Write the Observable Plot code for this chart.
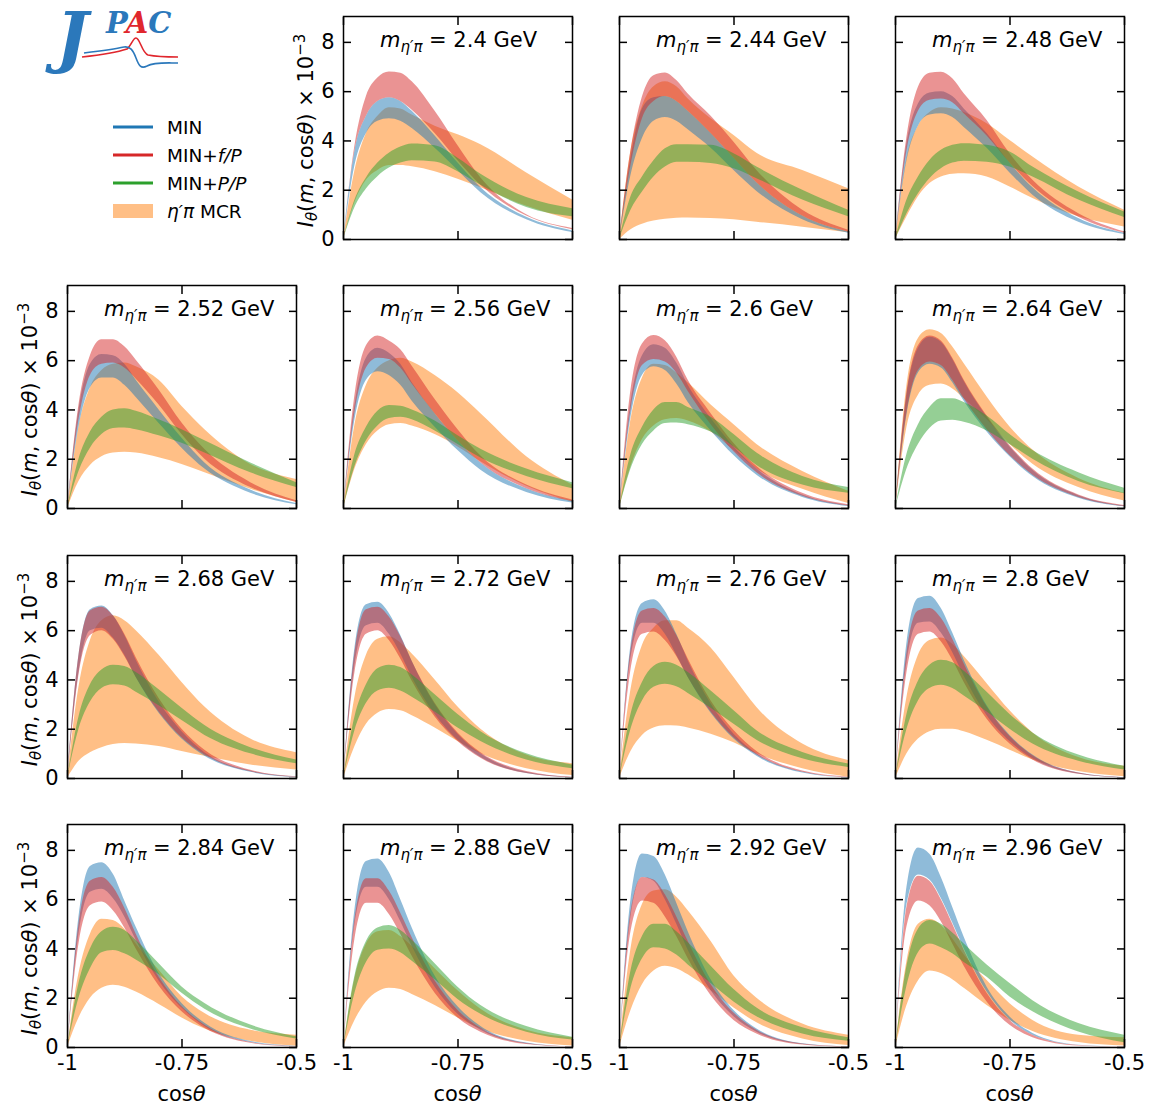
<!DOCTYPE html>
<html><head><meta charset="utf-8">
<script src="https://cdn.jsdelivr.net/npm/d3@7"></script>
<script src="https://cdn.jsdelivr.net/npm/@observablehq/plot@0.6"></script>
<style>
body{margin:0;background:#fff;}
#fig{position:relative;width:1151px;height:1107px;font-family:"DejaVu Sans",sans-serif;overflow:hidden;}
#fig svg{position:absolute;overflow:visible;}
</style></head><body><div id="fig"></div>
<script>
// ---- data ----
const cosTheta = [-1, -0.975, -0.95, -0.925, -0.9, -0.875, -0.85, -0.8, -0.75, -0.7, -0.6, -0.5];
const masses = [2.4, 2.44, 2.48, 2.52, 2.56, 2.6, 2.64, 2.68, 2.72, 2.76, 2.8, 2.84, 2.88, 2.92, 2.96];
const xTicks = [-1, -0.75, -0.5];
const xTickLabels = ["-1", "-0.75", "-0.5"];
const yTicks = [0, 2, 4, 6, 8];

// MIN (blue)
const minHi = [
 [0,3.6,5.0,5.6,5.75,5.6,5.2,4.2,3.1,2.1,0.9,0.35],
 [0,3.3,5.3,5.75,5.8,5.6,5.2,4.3,3.3,2.3,0.95,0.3],
 [0,3.9,5.5,5.95,6.0,5.8,5.3,4.3,3.1,2.1,0.85,0.25],
 [0,4.0,5.85,6.25,6.2,5.85,5.2,4.0,2.85,1.85,0.75,0.2],
 [0,4.2,6.1,6.5,6.3,5.85,5.1,3.85,2.75,1.85,0.8,0.3],
 [0,4.3,6.2,6.65,6.5,5.9,5.0,3.65,2.5,1.6,0.55,0.12],
 [0,4.6,6.5,6.95,6.75,6.05,5.15,3.7,2.5,1.55,0.52,0.1],
 [0,5.0,6.85,7.0,6.6,5.8,4.8,3.1,1.9,1.05,0.3,0.06],
 [0,5.3,7.05,7.15,6.7,5.8,4.75,3.0,1.8,1.0,0.25,0.04],
 [0,5.4,7.1,7.25,6.79,5.85,4.77,3.02,1.8,1.0,0.26,0.03],
 [0,5.5,7.3,7.4,6.9,5.9,4.8,2.95,1.75,0.95,0.22,0.03],
 [0,5.3,7.35,7.5,7.03,5.95,4.88,3.0,1.79,0.98,0.24,0.04],
 [0,5.6,7.55,7.65,7.1,6.0,4.85,2.9,1.65,0.85,0.18,0.02],
 [0,6.0,7.85,7.75,7.0,5.85,4.7,2.75,1.5,0.75,0.15,0.02],
 [0,6.5,8.1,7.84,6.9,5.68,4.47,2.45,1.24,0.57,0.09,0.01]
];
const minLo = [
 [0,3.0,4.3,4.8,4.9,4.8,4.5,3.7,2.8,1.9,0.8,0.28],
 [0,2.6,4.1,4.8,4.95,4.8,4.45,3.7,2.8,1.95,0.8,0.25],
 [0,3.2,4.6,5.05,5.1,4.95,4.55,3.7,2.7,1.8,0.7,0.2],
 [0,3.3,4.9,5.3,5.3,5.0,4.5,3.45,2.45,1.6,0.62,0.15],
 [0,3.6,5.2,5.55,5.4,5.0,4.35,3.3,2.35,1.55,0.65,0.22],
 [0,3.7,5.4,5.75,5.6,5.05,4.3,3.15,2.15,1.35,0.45,0.08],
 [0,3.8,5.5,5.85,5.7,5.1,4.35,3.1,2.1,1.3,0.42,0.07],
 [0,4.3,6.0,6.1,5.7,5.0,4.1,2.65,1.6,0.9,0.25,0.04],
 [0,4.6,6.2,6.3,5.85,5.05,4.1,2.6,1.55,0.85,0.2,0.03],
 [0,4.9,6.3,6.3,5.85,5.0,4.1,2.65,1.6,0.9,0.22,0.02],
 [0,4.7,6.3,6.35,5.9,5.1,4.15,2.55,1.5,0.8,0.18,0.02],
 [0,4.6,6.3,6.42,6.05,5.3,4.35,2.7,1.6,0.85,0.2,0.03],
 [0,5.0,6.5,6.5,6.0,5.1,4.1,2.45,1.35,0.7,0.14,0.02],
 [0,5.3,6.9,6.75,6.0,5.0,3.95,2.3,1.25,0.62,0.12,0.01],
 [0,5.8,7.0,6.8,6.05,5.05,4.0,2.25,1.12,0.5,0.08,0.01]
];
// MIN+f/P (red)
const fpHi = [
 [0,3.8,5.8,6.55,6.8,6.75,6.4,5.2,3.8,2.5,1.0,0.45],
 [0,3.6,5.78,6.65,6.76,6.45,5.9,5.0,3.95,2.8,1.19,0.38],
 [0,4.16,6.18,6.75,6.79,6.52,5.91,4.83,3.48,2.4,1.05,0.31],
 [0,4.2,6.2,6.85,6.85,6.56,6.02,4.81,3.47,2.39,1.05,0.31],
 [0,4.6,6.6,7.0,6.8,6.44,5.77,4.42,3.2,2.13,0.95,0.35],
 [0,4.8,6.68,7.02,6.81,6.14,5.2,3.85,2.64,1.7,0.62,0.15],
 [0,4.7,6.6,7.0,6.8,6.1,5.2,3.75,2.55,1.6,0.55,0.12],
 [0,5.0,6.8,6.95,6.6,5.85,4.9,3.25,2.0,1.15,0.33,0.07],
 [0,5.1,6.85,6.95,6.55,5.75,4.75,3.05,1.85,1.05,0.28,0.05],
 [0,5.2,6.8,6.9,6.55,5.8,4.85,3.15,1.95,1.1,0.3,0.05],
 [0,5.1,6.8,6.9,6.5,5.65,4.65,2.9,1.7,0.92,0.22,0.03],
 [0,5.0,6.75,6.9,6.5,5.65,4.6,2.85,1.65,0.9,0.2,0.03],
 [0,5.2,6.85,6.85,6.35,5.45,4.45,2.7,1.5,0.78,0.16,0.02],
 [0,5.5,6.9,6.8,6.2,5.3,4.3,2.55,1.4,0.7,0.14,0.02],
 [0,5.7,6.95,6.75,6.0,5.0,3.95,2.2,1.1,0.5,0.08,0.01]
];
const fpLo = [
 [0,3.6,5.0,5.6,5.75,5.6,5.25,4.3,3.2,2.2,0.95,0.4],
 [0,3.0,4.9,5.6,5.8,5.6,5.2,4.3,3.3,2.3,0.95,0.3],
 [0,3.6,5.2,5.65,5.7,5.55,5.1,4.2,3.1,2.15,0.9,0.25],
 [0,3.6,5.4,5.85,5.9,5.7,5.25,4.2,3.0,2.0,0.85,0.25],
 [0,3.9,5.7,6.1,6.05,5.7,5.05,3.85,2.75,1.85,0.8,0.28],
 [0,4.0,5.8,6.05,5.95,5.5,4.75,3.4,2.3,1.45,0.5,0.1],
 [0,3.9,5.6,5.95,5.8,5.2,4.45,3.2,2.15,1.35,0.45,0.08],
 [0,4.2,5.8,6.0,5.65,4.95,4.1,2.7,1.65,0.95,0.27,0.05],
 [0,4.3,5.85,6.0,5.6,4.85,3.95,2.5,1.5,0.82,0.2,0.03],
 [0,4.4,5.85,5.95,5.6,4.95,4.1,2.7,1.65,0.95,0.25,0.03],
 [0,4.3,5.85,5.95,5.55,4.8,3.9,2.4,1.4,0.75,0.17,0.02],
 [0,4.2,5.75,5.9,5.55,4.85,4.0,2.5,1.45,0.78,0.17,0.02],
 [0,4.4,5.85,5.85,5.4,4.6,3.7,2.2,1.2,0.62,0.12,0.01],
 [0,4.7,5.95,5.85,5.3,4.5,3.6,2.1,1.1,0.55,0.1,0.01],
 [0,4.9,5.95,5.75,5.1,4.2,3.3,1.85,0.9,0.4,0.06,0.0]
];
// MIN+P/P (green)
const ppHi = [
 [0,1.6,2.5,3.1,3.5,3.75,3.88,3.8,3.3,2.65,1.7,1.25],
 [0,1.73,2.54,3.2,3.68,3.85,3.85,3.82,3.48,2.94,2.0,1.19],
 [0,1.6,2.54,3.21,3.62,3.82,3.89,3.82,3.55,2.94,1.93,1.12],
 [0,2.0,3.1,3.7,4.0,4.05,3.95,3.6,3.2,2.75,1.85,1.05],
 [0,2.2,3.3,3.95,4.18,4.15,4.0,3.55,2.95,2.4,1.6,1.05],
 [0,2.2,3.3,4.0,4.3,4.3,4.1,3.7,3.0,2.25,1.3,0.85],
 [0,2.2,3.4,4.1,4.45,4.45,4.3,3.75,3.0,2.35,1.45,0.82],
 [0,2.5,3.8,4.4,4.6,4.55,4.3,3.6,2.85,2.15,1.25,0.75],
 [0,2.5,3.8,4.45,4.6,4.5,4.2,3.4,2.6,1.9,1.0,0.55],
 [0,2.6,3.9,4.55,4.72,4.6,4.3,3.55,2.75,1.94,1.06,0.59],
 [0,2.6,3.95,4.6,4.8,4.7,4.35,3.5,2.6,1.85,0.95,0.5],
 [0,2.6,4.0,4.7,4.88,4.75,4.34,3.4,2.46,1.79,0.91,0.44],
 [0,2.9,4.3,4.85,4.95,4.75,4.35,3.4,2.45,1.7,0.85,0.42],
 [0,3.1,4.5,5.0,5.0,4.7,4.25,3.3,2.35,1.6,0.8,0.4],
 [0,3.3,4.8,5.15,5.0,4.65,4.2,3.35,2.6,1.9,0.97,0.5]
];
const ppLo = [
 [0,1.3,2.05,2.55,2.9,3.1,3.2,3.15,2.75,2.2,1.3,0.92],
 [0,1.19,1.93,2.54,2.94,3.13,3.14,3.08,2.87,2.47,1.6,0.92],
 [0,1.05,1.86,2.47,2.87,3.1,3.18,3.14,2.94,2.54,1.6,0.89],
 [0,1.5,2.45,3.0,3.25,3.27,3.2,2.95,2.65,2.25,1.45,0.85],
 [0,1.7,2.75,3.35,3.65,3.7,3.6,3.15,2.6,2.05,1.3,0.8],
 [0,1.6,2.6,3.15,3.45,3.47,3.4,3.1,2.5,1.75,0.95,0.62],
 [0,1.6,2.6,3.25,3.55,3.58,3.5,3.15,2.6,2.0,1.1,0.6],
 [0,2.0,3.1,3.65,3.8,3.75,3.5,2.95,2.35,1.75,1.0,0.6],
 [0,1.95,3.05,3.55,3.66,3.55,3.3,2.7,2.05,1.5,0.75,0.4],
 [0,2.0,3.15,3.7,3.82,3.72,3.45,2.85,2.2,1.55,0.8,0.45],
 [0,2.0,3.15,3.65,3.78,3.65,3.35,2.7,2.0,1.4,0.7,0.35],
 [0,2.0,3.2,3.85,3.94,3.8,3.55,2.95,2.2,1.55,0.75,0.35],
 [0,2.2,3.45,3.95,4.0,3.85,3.5,2.75,1.95,1.35,0.62,0.3],
 [0,2.4,3.6,4.05,4.0,3.75,3.35,2.6,1.85,1.25,0.55,0.25],
 [0,2.5,3.85,4.2,4.05,3.8,3.45,2.85,2.05,1.45,0.63,0.19]
];
// eta' pi MCR (orange)
const mcrHi = [
 [0,2.8,4.3,5.0,5.35,5.3,5.05,4.6,4.25,3.85,2.7,1.6],
 [0,3.6,5.4,6.2,6.4,6.2,5.7,4.9,4.22,3.5,2.8,2.06],
 [0,3.3,4.6,5.15,5.35,5.3,5.15,4.7,4.02,3.35,2.13,1.19],
 [0,3.3,4.9,5.6,5.85,5.9,5.75,5.2,4.14,3.2,1.79,1.18],
 [0,3.4,5.0,5.7,6.0,6.1,5.95,5.4,4.7,3.85,2.1,0.95],
 [0,3.6,5.3,5.85,5.8,5.5,5.1,4.2,3.4,2.6,1.5,0.7],
 [0,5.0,6.9,7.25,7.1,6.55,5.87,4.53,3.31,2.37,1.22,0.62],
 [0,3.7,5.6,6.4,6.6,6.4,6.0,5.0,3.9,2.9,1.6,1.05],
 [0,3.3,5.0,5.65,5.75,5.5,5.05,4.0,2.9,2.0,0.95,0.6],
 [0,3.6,5.4,6.1,6.4,6.4,6.1,5.3,4.1,2.88,1.4,0.73],
 [0,3.3,5.0,5.6,5.7,5.45,4.95,3.85,2.75,1.85,0.85,0.5],
 [0,3.0,4.6,5.2,5.15,4.8,4.2,3.13,2.06,1.38,0.7,0.5],
 [0,2.8,4.2,4.7,4.75,4.5,4.1,3.2,2.3,1.55,0.7,0.4],
 [0,4.0,5.8,6.35,6.4,6.1,5.55,4.3,2.9,2.0,0.95,0.5],
 [0,3.5,5.0,5.2,4.95,4.4,3.75,2.72,1.78,1.1,0.5,0.4]
];
const mcrLo = [
 [0,1.5,2.4,2.8,3.0,3.0,2.95,2.75,2.45,2.1,1.35,0.78],
 [0,0.4,0.62,0.75,0.82,0.86,0.87,0.85,0.8,0.7,0.5,0.27],
 [0,0.92,1.73,2.27,2.54,2.65,2.67,2.54,2.13,1.66,0.92,0.51],
 [0,1.1,1.75,2.1,2.25,2.28,2.25,2.06,1.79,1.45,0.78,0.24],
 [0,1.6,2.6,3.15,3.4,3.45,3.35,3.0,2.5,1.9,0.9,0.25],
 [0,1.7,2.8,3.35,3.6,3.65,3.55,3.1,2.35,1.6,0.78,0.2],
 [0,3.3,4.6,5.0,5.05,4.85,4.45,3.6,2.6,1.8,0.85,0.3],
 [0,0.7,1.05,1.25,1.38,1.42,1.4,1.3,1.1,0.9,0.55,0.35],
 [0,1.3,2.2,2.65,2.8,2.75,2.55,2.05,1.5,1.0,0.4,0.12],
 [0,1.1,1.75,2.05,2.14,2.13,2.05,1.8,1.45,1.0,0.4,0.05],
 [0,1.0,1.6,1.9,2.0,2.0,1.9,1.55,1.15,0.75,0.28,0.07],
 [0,1.2,2.0,2.4,2.53,2.45,2.25,1.75,1.2,0.75,0.25,0.05],
 [0,1.1,1.85,2.25,2.4,2.35,2.15,1.7,1.2,0.75,0.25,0.06],
 [0,1.5,2.55,3.1,3.3,3.2,2.95,2.3,1.6,1.0,0.35,0.08],
 [0,1.7,2.7,3.1,3.0,2.75,2.4,1.7,1.1,0.65,0.2,0.06]
];

const models = [
  {name: "MCR", lo: mcrLo, hi: mcrHi, color: "#ff7f0e"},
  {name: "MIN", lo: minLo, hi: minHi, color: "#1f77b4"},
  {name: "MIN+f/P", lo: fpLo, hi: fpHi, color: "#d62728"},
  {name: "MIN+P/P", lo: ppLo, hi: ppHi, color: "#2ca02c"}
];

// ---- layout ----
const PW = 229, PH = 223, ML = 70, MR = 12, MT = 16, MB = 66;
const FS = 21;
const fig = document.getElementById("fig");
const xLab = new Map(xTicks.map((t, i) => [t, xTickLabels[i]]));

masses.forEach((m, i) => {
  const cell = i + 1, r = Math.floor(cell / 4), c = cell % 4;
  const left = 67 + 276 * c, top = Math.round(16 + 269.33 * r);
  const showX = r === 3, showY = c === 0 || (r === 0 && c === 1);
  const marks = models.map(md => Plot.areaY(cosTheta, {
    x: cosTheta, y1: md.lo[i], y2: md.hi[i],
    fill: md.color, fillOpacity: 0.5, curve: "monotone-x"
  }));
  marks.push(
    Plot.axisX(xTicks, {anchor: "bottom", tickSize: -8, strokeWidth: 1.5, fill: "none", label: null}),
    Plot.axisX(xTicks, {anchor: "top", tickSize: -8, strokeWidth: 1.5, fill: "none", label: null}),
    Plot.axisY(yTicks, {anchor: "left", tickSize: -8, strokeWidth: 1.5, fill: "none", label: null}),
    Plot.axisY(yTicks, {anchor: "right", tickSize: -8, strokeWidth: 1.5, fill: "none", label: null}),
    Plot.frame({stroke: "black", strokeWidth: 1.5})
  );
  if (showX) marks.push(Plot.axisX(xTicks, {anchor: "bottom", tickSize: 0, stroke: "none", tickPadding: 8, fontSize: FS, tickFormat: d => xLab.get(d), label: null}));
  if (showY) marks.push(Plot.axisY(yTicks, {anchor: "left", tickSize: 0, stroke: "none", tickPadding: 9, fontSize: FS, label: null}));
  const svgEl = Plot.plot({
    width: ML + PW + MR, height: MT + PH + MB,
    marginLeft: ML, marginRight: MR, marginTop: MT, marginBottom: MB,
    x: {domain: [-1, -0.5], axis: null},
    y: {domain: [0, 9.05], axis: null},
    style: {fontFamily: "DejaVu Sans", fontSize: FS + "px", background: "transparent", overflow: "visible", maxWidth: "none", color: "black"},
    marks
  });
  svgEl.style.left = (left - ML) + "px";
  svgEl.style.top = (top - MT) + "px";
  fig.appendChild(svgEl);
  const svg = d3.select(svgEl);
  // facet title
  const t = svg.append("text").attr("x", ML + 37).attr("y", MT + 31).attr("text-anchor", "start")
    .attr("font-size", FS).attr("fill", "black");
  t.append("tspan").attr("font-style", "italic").text("m");
  t.append("tspan").attr("font-style", "italic").attr("font-size", 15).attr("dy", 5).text("η′π");
  t.append("tspan").attr("dy", -5).text(" = " + m + " GeV");
  if (showY) {
    const yl = svg.append("text").attr("transform", `translate(${ML - 30},${MT + PH / 2 + 3}) rotate(-90)`)
      .attr("text-anchor", "middle").attr("font-size", FS).attr("fill", "black");
    yl.append("tspan").attr("font-style", "italic").text("I");
    yl.append("tspan").attr("font-style", "italic").attr("font-size", 15).attr("dy", 4).text("θ");
    yl.append("tspan").attr("dy", -4).text("(");
    yl.append("tspan").attr("font-style", "italic").text("m");
    yl.append("tspan").text(", cos");
    yl.append("tspan").attr("font-style", "italic").text("θ");
    yl.append("tspan").text(") × 10");
    yl.append("tspan").attr("font-size", 15).attr("dy", -8).text("−3");
  }
  if (showX) {
    const xl = svg.append("text").attr("x", ML + PW / 2).attr("y", MT + PH + 54)
      .attr("text-anchor", "middle").attr("font-size", FS).attr("fill", "black");
    xl.append("tspan").text("cos");
    xl.append("tspan").attr("font-style", "italic").text("θ");
  }
});

// ---- logo + legend ----
const lg = d3.select(fig).append("svg").attr("width", 300).attr("height", 260)
  .style("left", "0px").style("top", "0px");
lg.append("text").attr("x", 56).attr("y", 60).attr("font-family", "DejaVu Serif")
  .attr("font-weight", "bold").attr("font-style", "italic").attr("font-size", 68).attr("fill", "#2b78bb").text("J");
const pac = lg.append("text").attr("x", 106).attr("y", 33).attr("font-family", "DejaVu Serif")
  .attr("font-weight", "bold").attr("font-style", "italic").attr("font-size", 29);
pac.append("tspan").attr("fill", "#2b78bb").text("P");
pac.append("tspan").attr("fill", "#e0262d").text("A");
pac.append("tspan").attr("fill", "#2b78bb").text("C");
lg.append("path").attr("d", "M82,57 C100,55 118,52 127,49 C131,46 133,38 136,38 C140,38 142,53 148,55 C158,57 168,57 178,57")
  .attr("fill", "none").attr("stroke", "#e0262d").attr("stroke-width", 1.6);
lg.append("path").attr("d", "M84,53 C100,51 115,49 124,47 C130,46 133,50 136,58 C139,66 141,69 147,66 C154,62 166,63 178,63")
  .attr("fill", "none").attr("stroke", "#2b78bb").attr("stroke-width", 1.6);

const legendItems = [
  {color: "#1f77b4", parts: [["MIN", false]], patch: false},
  {color: "#d62728", parts: [["MIN+", false], ["f/P", true]], patch: false},
  {color: "#2ca02c", parts: [["MIN+", false], ["P/P", true]], patch: false},
  {color: "#ffbf86", parts: [["η′π", true], [" MCR", false]], patch: true}
];
legendItems.forEach((it, k) => {
  const y = 127 + 28 * k;
  if (it.patch) lg.append("rect").attr("x", 113).attr("y", y - 7).attr("width", 40).attr("height", 14).attr("fill", it.color);
  else lg.append("line").attr("x1", 113).attr("x2", 153).attr("y1", y).attr("y2", y).attr("stroke", it.color).attr("stroke-width", 3);
  const tx = lg.append("text").attr("x", 167).attr("y", y + 6.5).attr("font-family", "DejaVu Sans").attr("font-size", 18.5).attr("fill", "black").style("white-space", "pre");
  it.parts.forEach(([s, it2]) => tx.append("tspan").attr("font-style", it2 ? "italic" : null).text(s));
});
</script></body></html>
